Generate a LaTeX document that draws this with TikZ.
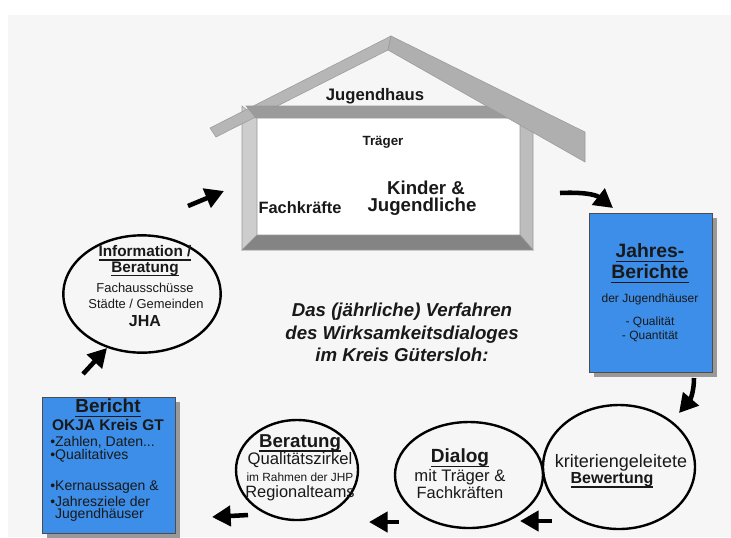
\documentclass[tikz,border=0pt]{standalone}
\usepackage{fontspec}
\setmainfont{Liberation Sans}
\usetikzlibrary{arrows.meta,shapes.geometric}
\newcommand{\myul}[1]{\setbox0\hbox{#1}\rlap{\raisebox{-3.2pt}{\rule{\wd0}{1.1pt}}}\box0}
\definecolor{boxblue}{RGB}{60,142,232}
\definecolor{bgray}{RGB}{246,246,246}
\definecolor{txt}{RGB}{25,25,25}
\definecolor{roofc}{RGB}{182,182,182}
\definecolor{beamc}{RGB}{155,155,155}
\definecolor{wallc}{RGB}{205,205,205}
\tikzset{
  fr/.style={font=\fontsize{#1pt}{#1pt}\selectfont, text=txt, inner sep=0pt},
  fb/.style={font=\fontsize{#1pt}{#1pt}\selectfont\bfseries, text=txt, inner sep=0pt},
  fi/.style={font=\fontsize{#1pt}{#1pt}\selectfont\bfseries\itshape, text=txt, inner sep=0pt},
  circ/.style={ellipse, draw=black, line width=1.8pt, inner sep=0pt},
  bluebox/.style={rectangle, draw=black!70, line width=0.6pt, fill=boxblue, inner sep=0pt},
  shadowbox/.style={rectangle, fill=black!40, draw=none, inner sep=0pt},
  flow/.style={line width=3.4pt, -{Triangle[length=14pt,width=15pt]}},
  housepart/.style={draw=black!40, line width=0.4pt},
}
\begin{document}
\begin{tikzpicture}[x=0.75pt,y=-0.75pt]
\useasboundingbox (0,0) rectangle (731,537);
\fill[white] (0,0) rectangle (731,537);
\fill[bgray] (8,15) rectangle (731,537);

% ---------- house ----------
\fill[white] (257,118) rectangle (520,235);
\filldraw[housepart, fill=wallc] (242,106) -- (257,118) -- (257,235) -- (242,250) -- cycle;
\filldraw[housepart, fill=wallc!92!black] (533,106) -- (533,250) -- (520,235) -- (520,118) -- cycle;
\filldraw[housepart, fill=beamc!85!black] (242,250) -- (257,235) -- (520,235) -- (533,250) -- cycle;
\filldraw[housepart, fill=roofc] (210,128) -- (391,36) -- (388,50) -- (216,137) -- cycle;
\filldraw[housepart, fill=beamc] (246,106) -- (530,106) -- (520,118) -- (256,118) -- cycle;
\filldraw[housepart, fill=roofc!96!black] (391,36) -- (585,132) -- (585,162) -- (388,50) -- cycle;

\node[fb=12.5] (jh) at (375,96) {Jugendhaus};
\node[fb=10] (tr) at (383,142) {Träger};
\node[fb=14] (kj1) at (426,188) {Kinder \&};
\node[fb=14] (kj2) at (422,207) {Jugendliche};
\node[fb=12.3] (fk) at (300,208) {Fachkräfte};

% ---------- Jahres-Berichte ----------
\node[shadowbox, minimum width=92.25pt, minimum height=119.25pt] (jbs) at (655.5,297.5) {};
\node[bluebox, minimum width=92.25pt, minimum height=119.25pt] (jb) at (650.5,292.5) {};
\node[fb=14.5] (jb1) at (650,253) {\myul{Jahres-}};
\node[fb=14.5] (jb2) at (650,274) {\myul{Berichte}};
\node[fr=9] (jb3) at (650,299) {der Jugendhäuser};
\node[fr=9] (jb4) at (650,322) {- Qualität};
\node[fr=9] (jb5) at (650,336) {- Quantität};

% ---------- Bericht ----------
\node[shadowbox, minimum width=99.75pt, minimum height=102pt] (bes) at (113.5,470) {};
\node[bluebox, minimum width=99.75pt, minimum height=102pt] (be) at (108.5,465) {};
\node[fb=14.2] (be1) at (108,408) {\myul{Bericht}};
\node[fb=11.6] (be2) at (108,425) {OKJA Kreis GT};
\node[fr=10.5, anchor=west] (be3) at (50,442) {•Zahlen, Daten...};
\node[fr=10.5, anchor=west] (be4) at (50,456) {•Qualitatives};
\node[fr=10.5, anchor=west] (be5) at (50,487) {•Kernaussagen \&};
\node[fr=10.5, anchor=west] (be6) at (50,501) {•Jahresziele der};
\node[fr=10.5, anchor=west] (be7) at (50,515) {\phantom{•}Jugendhäuser};

% ---------- Information / Beratung ----------
\node[circ, minimum width=118pt, minimum height=88pt] (info) at (142,294) {};
\node[fb=11.5] (in1) at (145,253) {\myul{Information /}};
\node[fb=11.5] (in2) at (145,269) {\myul{Beratung}};
\node[fr=9.7] (in3) at (145,288) {Fachausschüsse};
\node[fr=9.7] (in4) at (146,304) {Städte / Gemeinden};
\node[fb=12] (in5) at (145,321) {JHA};

% ---------- Beratung ----------
\node[circ, minimum width=91.5pt, minimum height=75pt] (ber) at (297,470) {};
\node[fb=14] (br1) at (300,443) {\myul{Beratung}};
\node[fr=12.5] (br2) at (300,460) {Qualitätszirkel};
\node[fr=8.9] (br3) at (300,477) {im Rahmen der JHP};
\node[fr=12.3] (br4) at (300,493) {Regionalteams};

% ---------- Dialog ----------
\node[circ, minimum width=111pt, minimum height=79.5pt] (dia) at (469,475) {};
\node[fb=14.3] (di1) at (460,458) {\myul{Dialog}};
\node[fr=12.5] (di2) at (460,477) {mit Träger \&};
\node[fr=12.3] (di3) at (460,493) {Fachkräften};

% ---------- Bewertung ----------
\node[circ, minimum width=114pt, minimum height=93pt] (bew) at (619,467) {};
\node[fr=13.5] (bw1) at (621,463) {kriteriengeleitete};
\node[fb=12] (bw2) at (612,480) {\myul{Bewertung}};

% ---------- title ----------
\node[fi=14] (t1) at (402,312) {Das (jährliche) Verfahren};
\node[fi=14] (t2) at (402,335) {des Wirksamkeitsdialoges};
\node[fi=14] (t3) at (402,355) {im Kreis Gütersloh:};

% ---------- arrows ----------
\coordinate (a1s) at (188,206);
\coordinate (a1e) at (224,191);
\coordinate (a2s) at (560,193);
\coordinate (a2e) at (613,208);
\coordinate (a3s) at (694,378);
\coordinate (a3e) at (679,413);
\coordinate (a4s) at (552,521);
\coordinate (a4e) at (520,521);
\coordinate (a5s) at (399,522);
\coordinate (a5e) at (369,522);
\coordinate (a6s) at (248,515);
\coordinate (a6e) at (212,517);
\coordinate (a7s) at (83,374);
\coordinate (a7e) at (107,348);
\draw[flow] (a1s) -- (a1e);
\draw[flow] (a2s) .. controls (580,192) and (595,194) .. (a2e);
\draw[flow] (a3s) .. controls (694,392) and (690,400) .. (a3e);
\draw[flow] (a4s) -- (a4e);
\draw[flow] (a5s) -- (a5e);
\draw[flow] (a6s) -- (a6e);
\draw[flow] (a7s) -- (a7e);
\end{tikzpicture}
\end{document}
